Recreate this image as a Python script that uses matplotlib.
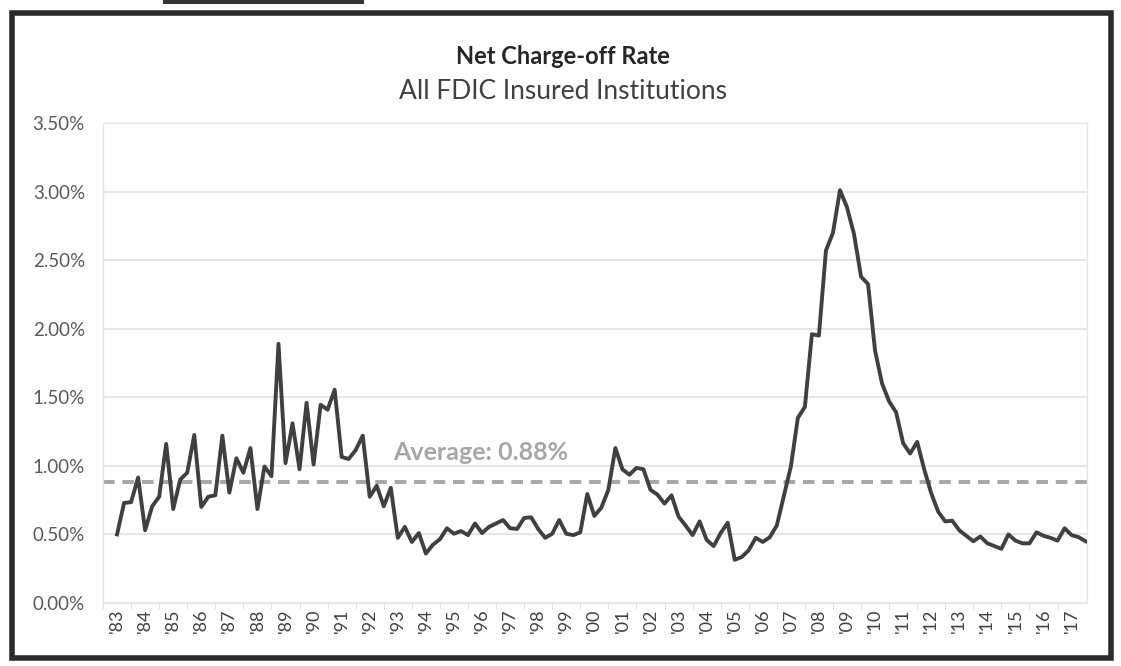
import numpy as np
import matplotlib
matplotlib.use('Agg')
from matplotlib import pyplot as plt
from matplotlib.patches import Rectangle

plt.rcParams['font.family'] = ['Lato', 'DejaVu Sans']

# 季度净核销率（%）
rate = [0.50, 0.73, 0.735, 0.915, 0.53, 0.705, 0.775, 1.16, 0.685, 0.90,
        0.95, 1.225, 0.70, 0.775, 0.785, 1.22, 0.805, 1.055, 0.95, 1.13,
        0.685, 0.995, 0.925, 1.89, 1.02, 1.31, 0.975, 1.46, 1.01, 1.445,
        1.41, 1.555, 1.065, 1.05, 1.115, 1.22, 0.775, 0.855, 0.705, 0.84,
        0.475, 0.555, 0.445, 0.51, 0.36, 0.425, 0.465, 0.545, 0.505, 0.525,
        0.495, 0.58, 0.51, 0.555, 0.58, 0.605, 0.545, 0.54, 0.62, 0.625,
        0.54, 0.475, 0.505, 0.605, 0.505, 0.495, 0.515, 0.795, 0.635, 0.695,
        0.825, 1.13, 0.975, 0.935, 0.985, 0.975, 0.825, 0.79, 0.725, 0.785,
        0.63, 0.565, 0.495, 0.595, 0.46, 0.415, 0.51, 0.585, 0.315, 0.335,
        0.385, 0.475, 0.445, 0.48, 0.565, 0.78, 0.995, 1.35, 1.43, 1.96,
        1.95, 2.57, 2.70, 3.01, 2.885, 2.69, 2.38, 2.325, 1.84, 1.60,
        1.47, 1.39, 1.165, 1.09, 1.175, 0.975, 0.80, 0.665, 0.595, 0.60,
        0.53, 0.49, 0.45, 0.485, 0.435, 0.415, 0.395, 0.50, 0.455, 0.435,
        0.435, 0.515, 0.49, 0.475, 0.455, 0.545, 0.495, 0.48, 0.45]
average = 0.88
years = ["'%02d" % (y % 100) for y in range(1983, 2018)]
yticks = [0, 0.5, 1.0, 1.5, 2.0, 2.5, 3.0, 3.5]

fig = plt.figure(figsize=(11.21, 6.66), dpi=100)
ax = fig.add_axes([0.0919, 0.0946, 0.8778, 0.7207])

x = np.arange(len(rate))
ax.axhline(average, color='#a6a6a6', lw=2.8, ls=(0, (3.0, 2.0)), zorder=2)
ax.plot(x, rate, color='#404040', lw=2.8, zorder=3)
ax.text(39.3, 1.10, 'Average: 0.88%', color='#a6a6a6',
        fontsize=18, fontweight='bold', va='center')

ax.set_xlim(-1.4, len(rate) - 0.8)
ax.set_ylim(0, 3.5)
ax.set_yticks(yticks)
ax.set_yticklabels(['%.2f%%' % v for v in yticks], color='#595959', fontsize=13.5)
ax.set_xticks(np.arange(len(years)) * 4)
ax.set_xticklabels(years, rotation=90, color='#404040', fontsize=13)
ax.set_xticks(np.arange(len(years)) * 4 - 2, minor=True)
ax.tick_params(axis='y', length=0, pad=13)
ax.tick_params(axis='x', which='major', length=0, pad=4)
ax.tick_params(axis='x', which='minor', length=4, color='#d9d9d9')
ax.grid(axis='y', color='#e3e3e3', lw=1.3)
ax.set_axisbelow(True)
for s in ax.spines.values():
    s.set_color('#e6e6e6')
    s.set_linewidth(1)

fig.text(0.502, 0.915, 'Net Charge-off Rate', ha='center', va='center',
         fontsize=17, fontweight='bold', color='#262626')
fig.text(0.502, 0.862, 'All FDIC Insured Institutions', ha='center', va='center',
         fontsize=19, color='#404040')

# 外框
fig.patches.append(Rectangle((0.011, 0.012), 0.98, 0.968, transform=fig.transFigure,
                             fill=False, ec='#2b2b2b', lw=4))
fig.patches.append(Rectangle((0.145, 0.994), 0.18, 0.006, transform=fig.transFigure,
                             fc='#333333', ec='none'))

fig.savefig('out.png', dpi=100)
